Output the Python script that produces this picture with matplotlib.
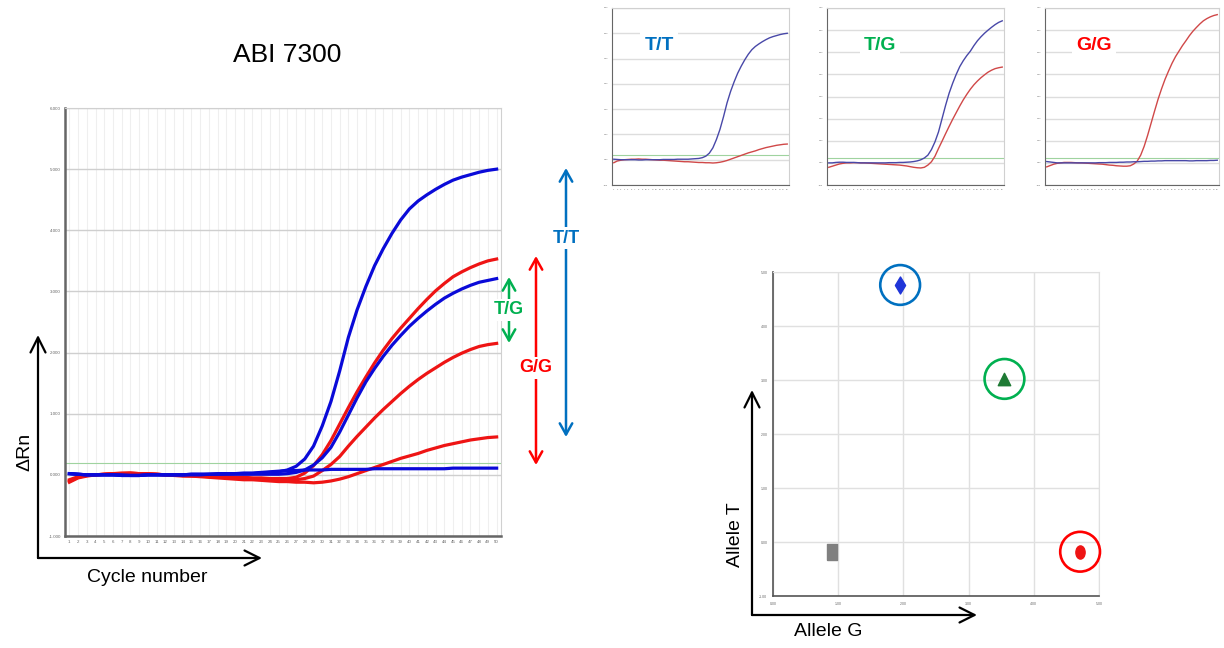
import numpy as np
import matplotlib
matplotlib.use("Agg")
import matplotlib.pyplot as plt
from matplotlib.patches import FancyArrowPatch
from matplotlib.path import Path
from matplotlib.transforms import Affine2D

plt.rcParams['font.family'] = ['Liberation Sans', 'DejaVu Sans']

# ---- data -------------------------------------------------------------
cycles = np.arange(1, 51)

# main ABI 7300 amplification curves (delta Rn per cycle)
blue_tt = [0.02, 0.01, 0.0, 0.0, 0.0, 0.0, 0.0, -0.01, -0.01, 0.0,
           0.0, 0.0, 0.0, 0.0, 0.01, 0.01, 0.01, 0.01, 0.02, 0.02,
           0.02, 0.02, 0.03, 0.04, 0.05, 0.08, 0.14, 0.26, 0.47, 0.8,
           1.2, 1.7, 2.25, 2.7, 3.08, 3.42, 3.7, 3.95, 4.17, 4.35,
           4.48, 4.58, 4.67, 4.75, 4.82, 4.87, 4.91, 4.95, 4.98, 5.0]
blue_tg = [0.02, 0.01, 0.0, 0.0, 0.0, 0.0, -0.01, -0.01, -0.01, 0.0,
           0.0, 0.0, 0.0, 0.0, 0.0, 0.0, 0.01, 0.01, 0.01, 0.01,
           0.01, 0.01, 0.01, 0.01, 0.01, 0.02, 0.04, 0.08, 0.16, 0.28,
           0.45, 0.7, 0.98, 1.26, 1.52, 1.74, 1.94, 2.12, 2.28, 2.43,
           2.56, 2.68, 2.79, 2.89, 2.97, 3.04, 3.1, 3.15, 3.18, 3.21]
blue_gg = [0.02, 0.01, 0.0, 0.0, 0.0, 0.0, -0.01, -0.01, -0.01, 0.0,
           0.0, 0.0, 0.0, 0.0, 0.01, 0.01, 0.01, 0.02, 0.02, 0.02,
           0.03, 0.03, 0.04, 0.05, 0.06, 0.07, 0.07, 0.08, 0.08, 0.08,
           0.09, 0.09, 0.09, 0.09, 0.09, 0.1, 0.1, 0.1, 0.1, 0.1,
           0.1, 0.1, 0.1, 0.1, 0.11, 0.11, 0.11, 0.11, 0.11, 0.11]
red_tg = [-0.08, -0.03, -0.01, 0.0, 0.01, 0.02, 0.02, 0.02, 0.02, 0.01,
          0.01, 0.0, 0.0, -0.01, -0.01, -0.02, -0.02, -0.03, -0.03, -0.04,
          -0.04, -0.05, -0.05, -0.06, -0.06, -0.06, -0.04, 0.03, 0.15, 0.33,
          0.56, 0.83, 1.1, 1.36, 1.6, 1.83, 2.04, 2.23, 2.4, 2.56,
          2.72, 2.87, 3.01, 3.13, 3.24, 3.32, 3.39, 3.45, 3.5, 3.53]
red_gg = [-0.1, -0.04, -0.01, 0.0, 0.01, 0.02, 0.03, 0.03, 0.02, 0.02,
          0.01, 0.0, 0.0, -0.01, -0.02, -0.02, -0.03, -0.04, -0.04, -0.05,
          -0.05, -0.06, -0.07, -0.07, -0.08, -0.08, -0.08, -0.06, -0.02, 0.07,
          0.17, 0.3, 0.47, 0.63, 0.78, 0.93, 1.07, 1.2, 1.33, 1.45,
          1.56, 1.66, 1.75, 1.84, 1.92, 1.99, 2.05, 2.1, 2.13, 2.15]
red_tt = [-0.12, -0.05, -0.02, 0.0, 0.01, 0.02, 0.02, 0.03, 0.02, 0.02,
          0.01, 0.0, -0.01, -0.02, -0.02, -0.03, -0.04, -0.05, -0.06, -0.07,
          -0.08, -0.08, -0.09, -0.1, -0.11, -0.11, -0.12, -0.12, -0.13, -0.12,
          -0.1, -0.07, -0.03, 0.02, 0.07, 0.12, 0.17, 0.22, 0.27, 0.31,
          0.35, 0.4, 0.44, 0.48, 0.51, 0.54, 0.57, 0.59, 0.61, 0.62]

# T/G and G/G single-sample runs (small panels)
tg_blue = [0.0, 0.0, 0.02, 0.03, 0.03, 0.02, 0.02, 0.02, 0.01, 0.0,
           0.0, 0.0, 0.0, 0.0, 0.0, 0.0, 0.0, 0.01, 0.01, 0.01,
           0.02, 0.02, 0.03, 0.04, 0.06, 0.09, 0.14, 0.22, 0.35, 0.6,
           0.95, 1.4, 2.0, 2.6, 3.15, 3.6, 4.0, 4.35, 4.62, 4.85,
           5.05, 5.3, 5.52, 5.7, 5.86, 6.0, 6.13, 6.25, 6.35, 6.42]
tg_red = [-0.2, -0.15, -0.1, -0.05, -0.02, 0.0, 0.0, 0.01, 0.01, 0.0,
          0.0, -0.01, -0.02, -0.03, -0.04, -0.05, -0.06, -0.07, -0.08, -0.09,
          -0.1, -0.12, -0.14, -0.17, -0.2, -0.22, -0.23, -0.2, -0.1, 0.05,
          0.3, 0.65, 0.98, 1.32, 1.65, 1.97, 2.27, 2.57, 2.85, 3.1,
          3.33, 3.53, 3.7, 3.85, 3.98, 4.1, 4.19, 4.26, 4.3, 4.33]
gg_blue = [0.06, 0.04, 0.02, 0.0, 0.0, 0.0, 0.0, 0.0, 0.0, 0.0,
           0.0, 0.0, 0.0, 0.0, 0.0, 0.01, 0.01, 0.01, 0.02, 0.02,
           0.02, 0.03, 0.03, 0.04, 0.04, 0.05, 0.05, 0.06, 0.07, 0.07,
           0.08, 0.08, 0.09, 0.09, 0.1, 0.1, 0.1, 0.1, 0.1, 0.1,
           0.1, 0.09, 0.09, 0.1, 0.1, 0.1, 0.1, 0.11, 0.11, 0.12]
gg_red = [-0.18, -0.12, -0.06, -0.02, 0.0, 0.02, 0.02, 0.02, 0.01, 0.0,
          0.0, -0.01, -0.02, -0.03, -0.04, -0.05, -0.06, -0.08, -0.1, -0.11,
          -0.13, -0.14, -0.15, -0.15, -0.13, -0.05, 0.08, 0.35, 0.75, 1.25,
          1.8, 2.35, 2.88, 3.35, 3.78, 4.15, 4.5, 4.8, 5.05, 5.3,
          5.52, 5.75, 5.95, 6.12, 6.28, 6.42, 6.52, 6.6, 6.66, 6.7]

threshold = 0.2

# allelic discrimination plot
allele_g = [1.95, 3.55, 4.71, 0.9]
allele_t = [4.76, 3.02, -0.18, -0.18]
genotypes = ['T/T', 'T/G', 'G/G', 'NTC']

# ---- figure -----------------------------------------------------------
W, H = 1224, 648
fig = plt.figure(figsize=(W / 100, H / 100), dpi=100)


def fx(x):
    return x / W


def fy(y):
    return 1 - y / H


def box(l, t, r, b):
    return [fx(l), fy(b), fx(r) - fx(l), fy(t) - fy(b)]


MAIN_BLUE = '#0a0ad8'
MAIN_RED = '#ee1414'
C_TT = '#0070C0'
C_TG = '#00B050'
C_GG = '#FF0000'


def style_amp(ax, ymax, lab_size, vgrid):
    ax.set_xlim(0.5, 50.5)
    ax.set_ylim(-1, ymax)
    ax.set_xticks(cycles)
    ax.set_yticks(np.arange(-1, ymax + 1))
    ax.grid(True, axis='y', color='#cfcfcf', lw=1)
    if vgrid:
        for c in cycles:
            ax.axvline(c, color='#efefef', lw=0.8, zorder=0)
    ax.axhline(threshold, color='#9fd39f', lw=0.8, zorder=1)
    ax.tick_params(length=0, labelsize=lab_size, colors='#666666', pad=3)
    for s in ['top', 'right']:
        ax.spines[s].set_color('#d0d0d0')
    for s in ['left', 'bottom']:
        ax.spines[s].set_color('#666666')


# main plot
ax = fig.add_axes(box(65, 108, 501, 536))
style_amp(ax, 6, 3.2, True)
ax.set_yticklabels(['%.3f' % v for v in np.arange(-1, 7)])
ax.spines['left'].set_linewidth(1.8)
ax.spines['bottom'].set_linewidth(1.8)
for y in [red_tt, red_gg, red_tg]:
    ax.plot(cycles, y, color=MAIN_RED, lw=2.3, zorder=3)
for y in [blue_gg, blue_tg, blue_tt]:
    ax.plot(cycles, y, color=MAIN_BLUE, lw=2.3, zorder=4)

fig.text(fx(287), fy(55), 'ABI 7300', fontsize=19, ha='center', va='center')

# small panels
panels = [((612, 8, 789, 185), 6, blue_tt, red_tt, 'T/T', C_TT, 659),
          ((827, 8, 1004, 185), 7, tg_blue, tg_red, 'T/G', C_TG, 880),
          ((1045, 8, 1219, 185), 7, gg_blue, gg_red, 'G/G', C_GG, 1094)]
for rect, ymax, yb, yr, lab, col, lx in panels:
    pa = fig.add_axes(box(*rect))
    style_amp(pa, ymax, 1.6, False)
    pa.grid(True, axis='y', color='#dddddd', lw=1)
    pa.set_yticklabels(['%.2f' % v for v in np.arange(-1, ymax + 1)])
    pa.plot(cycles, yr, color='#d04848', lw=1, zorder=3)
    pa.plot(cycles, yb, color='#4848a8', lw=1, zorder=4)
    fig.text(fx(lx), fy(45), lab, fontsize=14, fontweight='bold', color=col,
             ha='center', va='center', zorder=5,
             bbox=dict(facecolor='white', edgecolor='none', pad=3))

# allelic discrimination scatter
sa = fig.add_axes(box(773, 272, 1099, 596))
sa.set_xlim(0, 5)
sa.set_ylim(-1, 5)
sa.set_xticks(np.arange(0, 6))
sa.set_yticks(np.arange(-1, 6))
sa.set_xticklabels(['%.2f' % v for v in np.arange(0, 6)])
sa.set_yticklabels(['%.2f' % v for v in np.arange(-1, 6)])
sa.grid(True, color='#e0e0e0', lw=1)
sa.set_axisbelow(True)
sa.tick_params(length=0, labelsize=2.5, colors='#666666', pad=4)
for s in ['top', 'right']:
    sa.spines[s].set_color('#e0e0e0')
for s in ['left', 'bottom']:
    sa.spines[s].set_color('#555555')
    sa.spines[s].set_linewidth(1.2)

ellipse = Path.unit_circle().transformed(Affine2D().scale(0.7, 1.0))
rect_m = Path([(-0.55, -1), (0.55, -1), (0.55, 1), (-0.55, 1), (-0.55, -1)])
markers = ['d', '^', ellipse, rect_m]
mcolors = ['#1f35d8', '#1e7a34', '#ee1414', '#808080']
msizes = [75, 80, 90, 140]
rings = [C_TT, C_TG, C_GG, None]
for gx, gt, m, c, s, rc in zip(allele_g, allele_t, markers, mcolors,
                               msizes, rings):
    sa.scatter([gx], [gt], marker=m, s=s, color=c, zorder=3, clip_on=False)
    if rc:
        sa.scatter([gx], [gt], marker='o', s=820, facecolors='none',
                   edgecolors=rc, linewidths=1.9, zorder=4, clip_on=False)


# arrows and axis captions
def arrow(p0, p1, color, style, lw=1.8, ms=10):
    a = FancyArrowPatch((fx(p0[0]), fy(p0[1])), (fx(p1[0]), fy(p1[1])),
                        transform=fig.transFigure, arrowstyle=style,
                        color=color, lw=lw, mutation_scale=ms,
                        shrinkA=0, shrinkB=0)
    fig.add_artist(a)


head = '->,head_length=0.9,head_width=0.45'
arrow((38, 558), (38, 335), 'black', head, lw=1.6, ms=12)
arrow((38, 558), (262, 558), 'black', head, lw=1.6, ms=12)
arrow((752, 615), (752, 390), 'black', head, lw=1.6, ms=12)
arrow((752, 615), (977, 615), 'black', head, lw=1.6, ms=12)

dbl = '<->,head_length=0.8,head_width=0.45'
arrow((566, 437), (566, 168), C_TT, dbl)
arrow((536, 465), (536, 256), C_GG, dbl)
arrow((509, 343), (509, 277), C_TG, dbl)

for lab, col, x, y in [('T/T', C_TT, 566, 238), ('G/G', C_GG, 536, 368),
                       ('T/G', C_TG, 509, 310)]:
    fig.text(fx(x), fy(y), lab, fontsize=13, fontweight='bold', color=col,
             ha='center', va='center', zorder=5,
             bbox=dict(facecolor='white', edgecolor='none', pad=1.5))

fig.text(fx(25), fy(452), 'ΔRn', fontsize=14, rotation=90,
         ha='center', va='center')
fig.text(fx(147), fy(577), 'Cycle number', fontsize=14,
         ha='center', va='center')
fig.text(fx(735), fy(535), 'Allele T', fontsize=14, rotation=90,
         ha='center', va='center')
fig.text(fx(828), fy(632), 'Allele G', fontsize=14,
         ha='center', va='center')

fig.savefig('out.png', dpi=100)
